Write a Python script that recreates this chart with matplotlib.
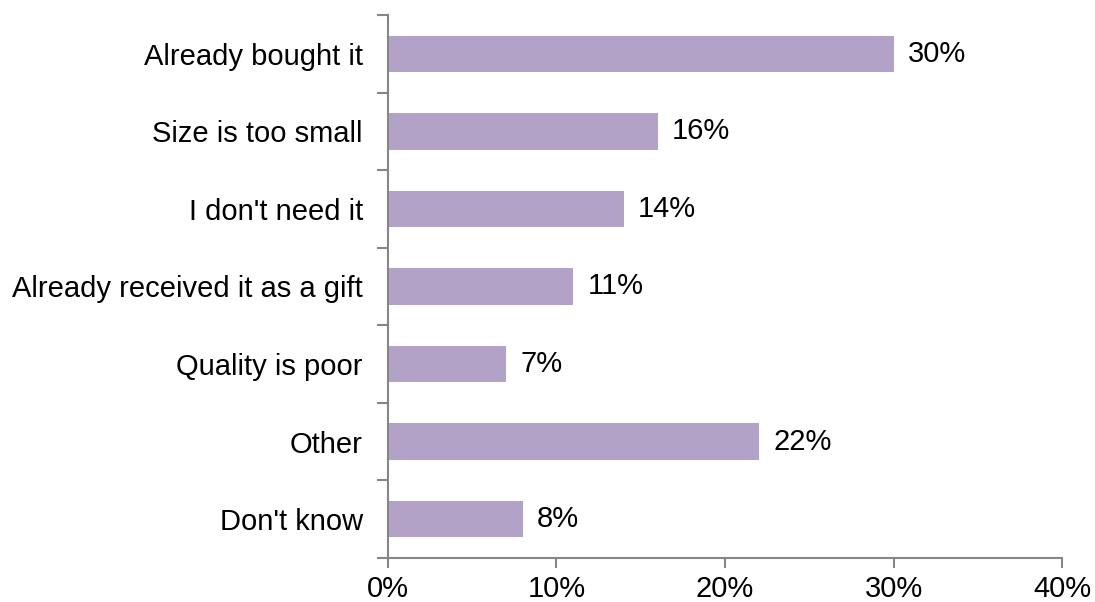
import matplotlib.pyplot as plt
from matplotlib.ticker import FixedLocator

# Data
reasons = ["Already bought it", "Size is too small", "I don't need it",
           "Already received it as a gift", "Quality is poor", "Other", "Don't know"]
shares = [30, 16, 14, 11, 7, 22, 8]
xticks = [0, 10, 20, 30, 40]

plt.rcParams['font.family'] = ['Liberation Sans', 'DejaVu Sans']
fs = 21

fig = plt.figure(figsize=(10.95, 6.02), dpi=100)
ax = fig.add_axes([0.3543, 0.0731, 0.6156, 0.902])

pos = list(range(len(reasons)))
ax.barh(pos, shares, height=0.47, color='#B3A2C7')
for p, v in zip(pos, shares):
    ax.text(v + 0.85, p, f'{v}%', va='center', ha='left', fontsize=fs, color='black')

ax.set_ylim(len(reasons) - 0.5, -0.5)
ax.set_xlim(0, 40)
ax.set_xticks(xticks)
ax.set_xticklabels([f'{t}%' for t in xticks], fontsize=fs)
ax.set_yticks(pos)
ax.set_yticklabels(reasons, fontsize=fs)
ax.tick_params(axis='y', which='major', length=0, pad=18)
ax.yaxis.set_minor_locator(FixedLocator([p - 0.5 for p in range(len(reasons) + 1)]))
ax.tick_params(axis='y', which='minor', length=8, width=1.5, color='#868686')
ax.tick_params(axis='x', length=7, width=1.5, color='#868686', pad=5)

for s in ['top', 'right']:
    ax.spines[s].set_visible(False)
for s in ['left', 'bottom']:
    ax.spines[s].set_color('#868686')
    ax.spines[s].set_linewidth(1.5)

plt.savefig('out.png', dpi=100)
